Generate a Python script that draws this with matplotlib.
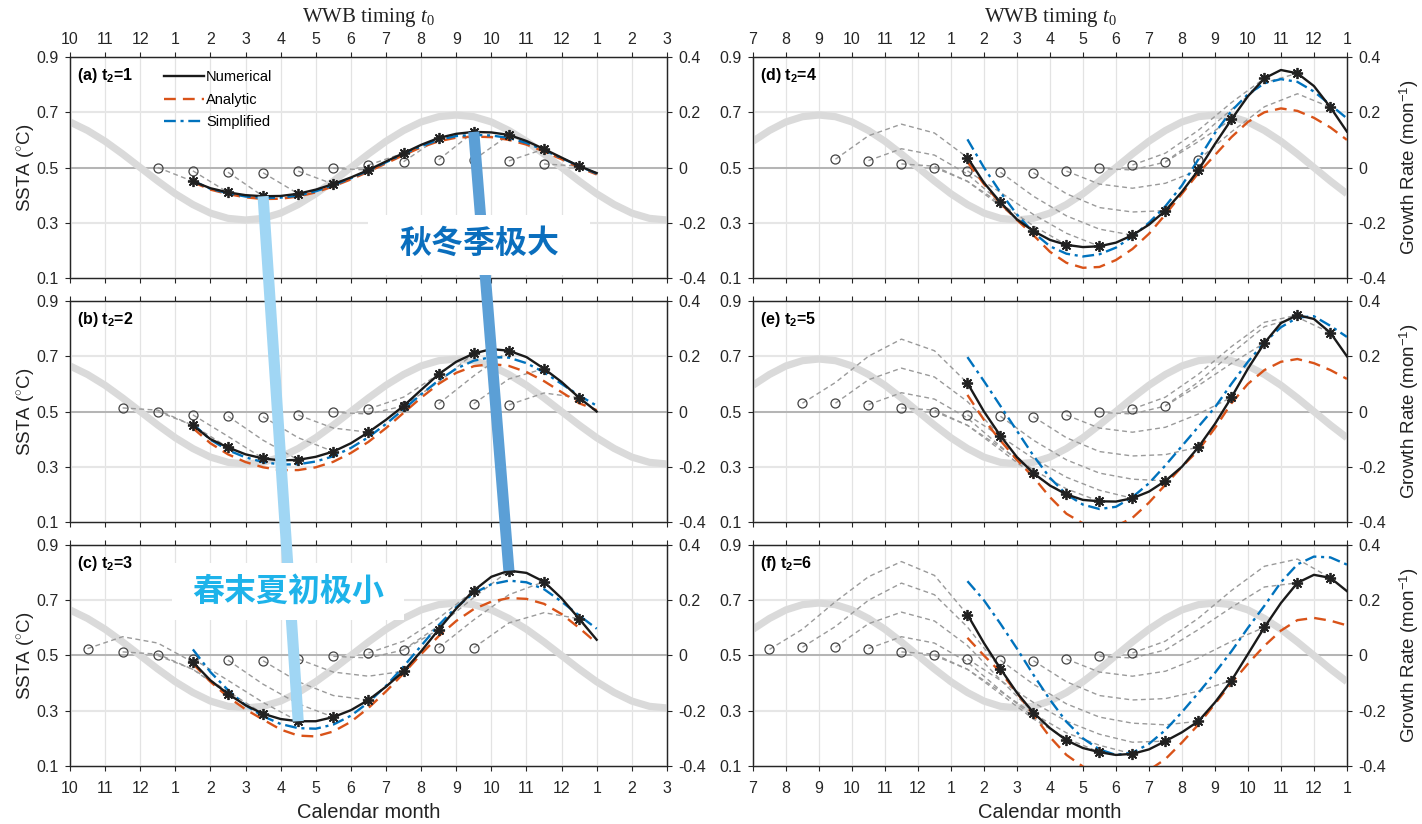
import matplotlib
matplotlib.use('Agg')
import matplotlib.pyplot as plt
import numpy as np
from matplotlib.patches import ConnectionPatch, Rectangle

plt.rcParams['font.family'] = ['Liberation Sans', 'DejaVu Sans']
plt.rcParams['axes.unicode_minus'] = False
plt.rcParams['mathtext.fontset'] = 'custom'
plt.rcParams['mathtext.rm'] = 'Liberation Serif'
plt.rcParams['mathtext.it'] = 'Liberation Serif:italic'
plt.rcParams['mathtext.bf'] = 'Liberation Sans:bold'
plt.rcParams['mathtext.sf'] = 'Liberation Sans'

# month index: 13 = Jan of event year, 25 = Jan of next year
# seasonal growth rate (mon^-1) at half-month steps, calendar month 1 .. 12.5
growth_month = [1, 1.5, 2, 2.5, 3, 3.5, 4, 4.5, 5, 5.5, 6, 6.5,
                7, 7.5, 8, 8.5, 9, 9.5, 10, 10.5, 11, 11.5, 12, 12.5]
growth_rate = [-0.095, -0.134, -0.165, -0.184, -0.19, -0.184, -0.165, -0.134,
               -0.095, -0.049, 0.0, 0.049, 0.095, 0.134, 0.165, 0.184,
               0.19, 0.184, 0.165, 0.134, 0.095, 0.049, 0.0, -0.049]

# WWB timing t0 and the initial SSTA (circles)
circle_t0 = [7.5, 8.5, 9.5, 10.5, 11.5, 12.5, 13.5, 14.5, 15.5, 16.5,
             17.5, 18.5, 19.5, 20.5, 21.5, 22.5, 23.5]
circle_ssta = [0.522, 0.53, 0.53, 0.525, 0.513, 0.50, 0.488, 0.483, 0.481,
               0.487, 0.497, 0.509, 0.521, 0.528, 0.528, 0.524, 0.513]

# SSTA of each run 1..6 months after its WWB (gray dashed trajectories)
traj = [
    [0.595, 0.695, 0.785, 0.84, 0.79, 0.648],
    [0.605, 0.70, 0.762, 0.72, 0.603, 0.452],
    [0.615, 0.657, 0.625, 0.536, 0.412, 0.293],
    [0.568, 0.545, 0.476, 0.374, 0.277, 0.193],
    [0.505, 0.45, 0.361, 0.27, 0.20, 0.15],
    [0.45, 0.37, 0.289, 0.22, 0.175, 0.144],
    [0.41, 0.33, 0.262, 0.215, 0.186, 0.19],
    [0.396, 0.325, 0.277, 0.255, 0.249, 0.262],
    [0.405, 0.355, 0.339, 0.344, 0.371, 0.409],
    [0.44, 0.425, 0.443, 0.491, 0.551, 0.602],
    [0.491, 0.52, 0.594, 0.674, 0.748, 0.763],
    [0.552, 0.635, 0.735, 0.823, 0.849, 0.781],
    [0.607, 0.71, 0.807, 0.841, 0.785],
    [0.629, 0.72, 0.767, 0.718],
    [0.618, 0.655, 0.633],
    [0.567, 0.55],
    [0.505],
]

curve_x = [13.5, 14, 14.5, 15, 15.5, 16, 16.5, 17, 17.5, 18, 18.5, 19,
           19.5, 20, 20.5, 21, 21.5, 22, 22.5, 23, 23.5, 24, 24.5, 25]

numerical = [
    [0.45, 0.425, 0.41, 0.40, 0.396, 0.397, 0.405, 0.42, 0.44, 0.464, 0.491, 0.522,
     0.552, 0.582, 0.607, 0.622, 0.629, 0.627, 0.618, 0.596, 0.567, 0.536, 0.505, 0.48],
    [0.45, 0.40, 0.37, 0.345, 0.33, 0.323, 0.325, 0.336, 0.355, 0.385, 0.425, 0.47,
     0.52, 0.578, 0.635, 0.68, 0.71, 0.726, 0.72, 0.697, 0.655, 0.607, 0.55, 0.50],
    [0.476, 0.41, 0.361, 0.32, 0.289, 0.27, 0.262, 0.262, 0.277, 0.302, 0.339, 0.387,
     0.443, 0.515, 0.594, 0.67, 0.735, 0.785, 0.807, 0.799, 0.767, 0.707, 0.633, 0.557],
    [0.536, 0.445, 0.374, 0.312, 0.27, 0.238, 0.22, 0.212, 0.215, 0.228, 0.255, 0.293,
     0.344, 0.412, 0.491, 0.585, 0.674, 0.758, 0.823, 0.853, 0.841, 0.795, 0.718, 0.63],
    [0.603, 0.50, 0.412, 0.335, 0.277, 0.232, 0.20, 0.18, 0.175, 0.174, 0.186, 0.21,
     0.249, 0.30, 0.371, 0.455, 0.551, 0.655, 0.748, 0.82, 0.849, 0.835, 0.785, 0.70],
    [0.648, 0.545, 0.452, 0.365, 0.293, 0.237, 0.193, 0.165, 0.15, 0.14, 0.144, 0.16,
     0.19, 0.222, 0.262, 0.33, 0.409, 0.505, 0.602, 0.69, 0.763, 0.792, 0.781, 0.733],
]

analytic = [
    [0.447, 0.42, 0.404, 0.392, 0.386, 0.387, 0.395, 0.41, 0.432, 0.457, 0.485, 0.515,
     0.545, 0.573, 0.595, 0.608, 0.612, 0.61, 0.60, 0.583, 0.558, 0.53, 0.50, 0.475],
    [0.44, 0.385, 0.345, 0.317, 0.298, 0.288, 0.288, 0.298, 0.318, 0.35, 0.39, 0.44,
     0.495, 0.55, 0.60, 0.64, 0.664, 0.672, 0.665, 0.643, 0.61, 0.57, 0.53, 0.505],
    [0.47, 0.405, 0.35, 0.305, 0.268, 0.232, 0.21, 0.207, 0.225, 0.26, 0.31, 0.37,
     0.435, 0.505, 0.57, 0.625, 0.668, 0.695, 0.708, 0.705, 0.687, 0.65, 0.6, 0.545],
    [0.52, 0.44, 0.37, 0.31, 0.255, 0.195, 0.155, 0.137, 0.14, 0.165, 0.205, 0.26,
     0.33, 0.405, 0.48, 0.545, 0.61, 0.665, 0.70, 0.714, 0.705, 0.68, 0.645, 0.60],
    [0.56, 0.47, 0.395, 0.325, 0.262, 0.19, 0.13, 0.095, 0.078, 0.085, 0.115, 0.17,
     0.235, 0.30, 0.36, 0.44, 0.53, 0.60, 0.65, 0.68, 0.69, 0.675, 0.65, 0.618],
    [0.564, 0.50, 0.44, 0.365, 0.285, 0.205, 0.14, 0.098, 0.07, 0.058, 0.063, 0.085,
     0.125, 0.185, 0.25, 0.325, 0.40, 0.47, 0.535, 0.59, 0.628, 0.636, 0.626, 0.609],
]

simplified = [
    [0.452, 0.423, 0.407, 0.395, 0.39, 0.391, 0.398, 0.414, 0.436, 0.461, 0.489, 0.519,
     0.549, 0.577, 0.60, 0.614, 0.618, 0.616, 0.607, 0.589, 0.563, 0.534, 0.505, 0.478],
    [0.455, 0.398, 0.36, 0.334, 0.317, 0.308, 0.309, 0.319, 0.338, 0.368, 0.407, 0.455,
     0.508, 0.562, 0.613, 0.655, 0.684, 0.697, 0.695, 0.675, 0.642, 0.60, 0.558, 0.521],
    [0.522, 0.44, 0.375, 0.32, 0.28, 0.252, 0.237, 0.235, 0.25, 0.282, 0.33, 0.39,
     0.46, 0.535, 0.61, 0.675, 0.725, 0.758, 0.771, 0.765, 0.74, 0.695, 0.645, 0.597],
    [0.602, 0.50, 0.41, 0.33, 0.265, 0.215, 0.188, 0.178, 0.186, 0.21, 0.25, 0.30,
     0.36, 0.435, 0.53, 0.625, 0.705, 0.765, 0.805, 0.82, 0.81, 0.775, 0.727, 0.678],
    [0.697, 0.61, 0.52, 0.43, 0.34, 0.26, 0.2, 0.163, 0.147, 0.155, 0.19, 0.24,
     0.305, 0.375, 0.445, 0.515, 0.60, 0.68, 0.75, 0.805, 0.84, 0.845, 0.81, 0.77],
    [0.769, 0.70, 0.615, 0.525, 0.43, 0.34, 0.26, 0.2, 0.16, 0.14, 0.148, 0.18,
     0.23, 0.295, 0.365, 0.437, 0.515, 0.6, 0.68, 0.765, 0.83, 0.858, 0.855, 0.829],
]

panel_tags = ['(a)', '(b)', '(c)', '(d)', '(e)', '(f)']
panel_t2 = [1, 2, 3, 4, 5, 6]
x_ranges = [(10, 27), (7, 25)]

C_RED = '#D95319'
C_BLUE = '#0072BD'
C_AX = '#262626'


def month_label(m):
    return str((m - 1) % 12 + 1)


fig = plt.figure(figsize=(14.22, 8.24), dpi=100)
lefts = [0.0492, 0.5295]
widths = [0.4198, 0.4177]
bottoms = [0.6626, 0.3665, 0.0704]
height = 0.2682

axes = []
asterisks = []
for k in range(6):
    col, row = k // 3, k % 3
    t2 = panel_t2[k]
    x0, x1 = x_ranges[col]
    ax = fig.add_axes([lefts[col], bottoms[row], widths[col], height])
    ax2 = ax.twinx()
    ax.set_zorder(ax2.get_zorder() + 1)
    ax.patch.set_visible(False)
    ax.set_xlim(x0, x1)
    ax.set_ylim(0.1, 0.9)
    ax2.set_ylim(-0.4, 0.4)

    # grid and zero growth line
    ax.set_axisbelow(True)
    ax.grid(True, axis='x', color='#e3e3e3', lw=0.9)
    ax.grid(True, axis='y', color='#e6e6e6', lw=1.5)
    ax.axhline(0.5, color='#b0b0b0', lw=1.3, zorder=1)

    # seasonal growth rate (right axis)
    gx = np.arange(x0, x1 + 0.01, 0.5)
    gy = [growth_rate[int(round(((m - 1) % 12) * 2))] for m in gx]
    ax.plot(gx, gy, color='#dadada', lw=5.2, solid_capstyle='butt',
            transform=ax2.transData, zorder=1.2)

    # individual runs
    cx, cy, sx, sy = [], [], [], []
    for i, t0 in enumerate(circle_t0):
        if 13.5 <= t0 + t2 <= 24.5:
            ys = [circle_ssta[i]] + traj[i][:t2]
            xs = [t0 + j for j in range(t2 + 1)]
            ax.plot(xs, ys, color='#9a9a9a', lw=1.0, ls=(0, (3.5, 2.5)), zorder=2)
            cx.append(t0)
            cy.append(circle_ssta[i])
            sx.append(t0 + t2)
            sy.append(traj[i][t2 - 1])
    asterisks.append((sx, sy))
    ax.plot(cx, cy, ls='none', marker='o', ms=6.5, mfc='none', mec='#444444',
            mew=0.9, zorder=3)

    h_ana, = ax.plot(curve_x, analytic[k], color=C_RED, lw=1.7,
                     ls=(0, (5, 3)), zorder=4)
    h_sim, = ax.plot(curve_x, simplified[k], color=C_BLUE, lw=1.7,
                     ls=(0, (5, 2, 1.3, 2)), zorder=4.5)
    h_num, = ax.plot(curve_x, numerical[k], color='#1a1a1a', lw=1.7, zorder=5)
    ax.plot(sx, sy, ls='none', marker=(8, 2, 0), ms=8, mec='#222222',
            mew=1.3, zorder=6)

    # ticks
    xt = list(range(x0, x1 + 1))
    ax.set_xticks(xt)
    ax.set_xticklabels([month_label(m) for m in xt])
    ax.set_yticks([0.1, 0.3, 0.5, 0.7, 0.9])
    ax.set_yticklabels(['0.1', '0.3', '0.5', '0.7', '0.9'])
    ax2.set_yticks([-0.4, -0.2, 0, 0.2, 0.4])
    ax2.set_yticklabels(['-0.4', '-0.2', '0', '0.2', '0.4'])
    ax.tick_params(axis='x', direction='out', length=3.5, width=0.8, colors=C_AX,
                   labelsize=11.5, top=True, bottom=True,
                   labeltop=(row == 0), labelbottom=(row == 2),
                   pad=(3.5 if row == 0 else 7))
    ax.tick_params(axis='y', direction='out', length=3.5, width=0.8, colors=C_AX,
                   labelsize=11.5, pad=5)
    ax2.tick_params(axis='y', direction='out', length=3.5, width=0.8, colors=C_AX,
                    labelsize=11.5, pad=5)
    for a in (ax, ax2):
        for s in a.spines.values():
            s.set_color(C_AX)
            s.set_linewidth(0.9)

    if col == 0:
        ax.set_ylabel('SSTA ($^{\\circ}$C)', fontsize=13.5, labelpad=-1, color='#222222')
    else:
        ax2.set_ylabel('Growth Rate (mon$^{\\mathsf{-1}}$)', fontsize=13.5,
                       labelpad=8, color='#222222')
    if row == 2:
        ax.set_xlabel('Calendar month', fontsize=14.5, labelpad=5, color='#222222')

    ax.text(0.012, 0.96, panel_tags[k] + ' t$_{\\mathbf{2}}$=' + str(t2),
            transform=ax.transAxes, fontsize=11.5, fontweight='bold',
            va='top', ha='left', zorder=7)
    axes.append(ax)

    if k == 0:
        axes[0].legend([h_num, h_ana, h_sim], ['Numerical', 'Analytic', 'Simplified'],
                       loc='upper left', bbox_to_anchor=(0.158, 0.94), frameon=False,
                       fontsize=10.5, handlelength=2.7, handletextpad=0.15,
                       labelspacing=0.58, borderpad=0, borderaxespad=0)

# top axis title
for col in range(2):
    xc = lefts[col] + widths[col] / 2
    fig.text(xc, 0.979, 'WWB timing $t_0$', ha='center', va='center',
             fontsize=15, fontfamily='Liberation Serif', color='#222222')

# annotation bars linking extrema of (a) and (c)
sx_a, sy_a = asterisks[0]
sx_c, sy_c = asterisks[2]
i_min_a, i_min_c = sx_a.index(15.5), sx_c.index(16.5)
i_max_a, i_max_c = sx_a.index(21.5), sx_c.index(22.5)
bar_min = ConnectionPatch(xyA=(15.5, sy_a[i_min_a]), coordsA=axes[0].transData,
                          xyB=(16.5, sy_c[i_min_c]), coordsB=axes[2].transData,
                          color='#a0d6f4', lw=8, capstyle='butt', zorder=20)
bar_max = ConnectionPatch(xyA=(21.5, sy_a[i_max_a]), coordsA=axes[0].transData,
                          xyB=(22.5, sy_c[i_max_c]), coordsB=axes[2].transData,
                          color='#5b9fd6', lw=8, capstyle='butt', zorder=20)
fig.add_artist(bar_min)
fig.add_artist(bar_max)

# text boxes
fig.add_artist(Rectangle((0.2588, 0.6663), 0.1561, 0.0728, transform=fig.transFigure,
                         facecolor='white', edgecolor='none', zorder=21))
fig.add_artist(Rectangle((0.1210, 0.2476), 0.1632, 0.0692, transform=fig.transFigure,
                         facecolor='white', edgecolor='none', zorder=21))
fig.text(0.3369, 0.7039, '秋冬季极大', ha='center', va='center', fontsize=23,
         fontweight='bold', color='#0a6ebd', fontfamily=['Noto Sans CJK SC'], zorder=22)
fig.text(0.2025, 0.2816, '春末夏初极小', ha='center', va='center', fontsize=23,
         fontweight='bold', color='#1eb3ea', fontfamily=['Noto Sans CJK SC'], zorder=22)

fig.savefig('out.png', dpi=100)
